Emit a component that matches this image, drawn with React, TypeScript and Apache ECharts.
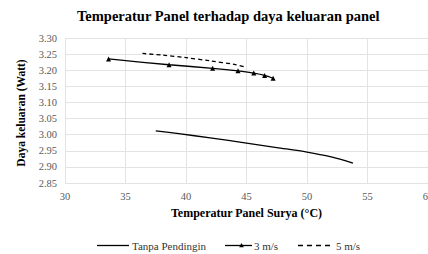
import React, { useEffect, useRef } from "react";
import * as echarts from "echarts";

const tanpaX = [37.5, 39.4, 42, 45, 47.5, 50, 52, 53.8];
const tanpaY = [3.012, 3.003, 2.99, 2.974, 2.96, 2.946, 2.931, 2.912];
const m3X = [33.6, 38.6, 42.2, 44.3, 45.6, 46.5, 47.2];
const m3Y = [3.235, 3.217, 3.206, 3.198, 3.191, 3.184, 3.175];
const m5X = [36.4, 38, 40, 42, 44, 45];
const m5Y = [3.252, 3.247, 3.239, 3.229, 3.218, 3.209];

const seriesNames = ["Tanpa Pendingin", "3 m/s", "5 m/s"];
const titleText = "Temperatur Panel terhadap daya keluaran panel";
const xName = "Temperatur Panel Surya (°C)";
const yName = "Daya keluaran (Watt)";

const zip = (xs: number[], ys: number[]) => xs.map((x, i) => [x, ys[i]]);

const FONT = "Liberation Serif";
const LEG_Y = 245.5;
const legText = (x: number, text: string) => ({
  type: "text",
  x,
  y: LEG_Y,
  style: {
    text,
    fontFamily: FONT,
    fontSize: 11,
    fill: "#333",
    verticalAlign: "middle",
  },
});

export default function App() {
  const ref = useRef<HTMLDivElement>(null);
  useEffect(() => {
    const chart = echarts.init(ref.current!, null, { renderer: "svg" });
    chart.setOption({
      animation: false,
      textStyle: { fontFamily: FONT },
      title: {
        text: titleText,
        left: 72,
        top: 3,
        textStyle: { fontFamily: FONT, fontSize: 14.5, fontWeight: "bold", color: "#000" },
      },
      grid: { left: 65, right: 0, top: 38, bottom: 71, outerBoundsMode: "none", containLabel: false },
      xAxis: {
        type: "value",
        min: 30,
        max: 60,
        interval: 5,
        name: xName,
        nameLocation: "middle",
        nameGap: 24,
        nameTextStyle: { fontFamily: FONT, fontSize: 12, fontWeight: "bold", color: "#000" },
        axisLine: { show: false },
        axisTick: { show: false },
        axisLabel: { fontFamily: FONT, fontSize: 10.5, color: "#595959", margin: 8 },
        splitLine: { show: true, lineStyle: { color: "#e3e3e3", width: 1 } },
      },
      yAxis: {
        type: "value",
        min: 2.85,
        max: 3.3,
        interval: 0.05,
        axisLine: { show: false },
        axisTick: { show: false },
        axisLabel: {
          fontFamily: FONT,
          fontSize: 10.5,
          color: "#595959",
          margin: 8,
          formatter: (v: number) => v.toFixed(2),
        },
        splitLine: { show: true, lineStyle: { color: "#e3e3e3", width: 1 } },
      },
      graphic: [
        {
          type: "text",
          x: 20.5,
          y: 113,
          rotation: Math.PI / 2,
          style: {
            text: yName,
            fontFamily: FONT,
            fontSize: 11.5,
            fontWeight: "bold",
            fill: "#000",
            align: "center",
            verticalAlign: "middle",
          },
        },
        { type: "line", shape: { x1: 97, y1: LEG_Y, x2: 129, y2: LEG_Y }, style: { stroke: "#000", lineWidth: 1.3 } },
        legText(132, seriesNames[0]),
        { type: "line", shape: { x1: 225, y1: LEG_Y, x2: 252, y2: LEG_Y }, style: { stroke: "#000", lineWidth: 1.3 } },
        {
          type: "polygon",
          shape: { points: [[241.5, LEG_Y - 2.5], [243.8, LEG_Y + 1.8], [239.2, LEG_Y + 1.8]] },
          style: { fill: "#000" },
        },
        legText(254, seriesNames[1]),
        {
          type: "line",
          shape: { x1: 298, y1: LEG_Y, x2: 334, y2: LEG_Y },
          style: { stroke: "#000", lineWidth: 1.3, lineDash: [5, 4] },
        },
        legText(336, seriesNames[2]),
      ],
      series: [
        {
          name: seriesNames[0],
          type: "line",
          data: zip(tanpaX, tanpaY),
          smooth: 0.3,
          symbol: "none",
          lineStyle: { color: "#000", width: 1.3 },
          itemStyle: { color: "#000" },
        },
        {
          name: seriesNames[1],
          type: "line",
          data: zip(m3X, m3Y),
          smooth: 0.3,
          symbol: "triangle",
          symbolSize: 5,
          lineStyle: { color: "#000", width: 1.3 },
          itemStyle: { color: "#000" },
        },
        {
          name: seriesNames[2],
          type: "line",
          data: zip(m5X, m5Y),
          smooth: 0.3,
          symbol: "none",
          lineStyle: { color: "#000", width: 1.3, type: [4, 3] },
          itemStyle: { color: "#000" },
        },
      ],
    });
    return () => chart.dispose();
  }, []);
  return <div ref={ref} style={{ width: 428, height: 254, position: "absolute", left: 0, top: 0 }} />;
}
